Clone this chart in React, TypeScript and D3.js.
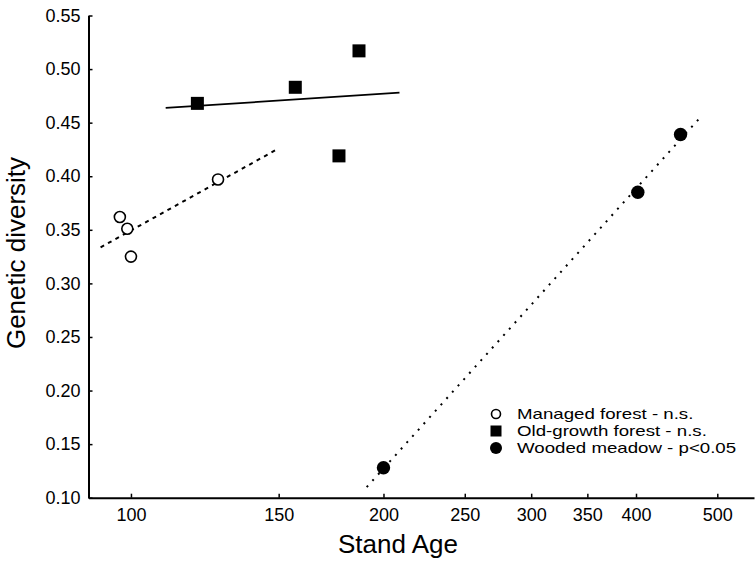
import { useEffect, useRef } from 'react';
import * as d3 from 'd3';

// Stand age (years) and genetic diversity per group
const managedAge = [97, 99, 100, 127];
const managedDiv = [0.362, 0.351, 0.325, 0.397];
const oldGrowthAge = [120, 157, 177, 187];
const oldGrowthDiv = [0.468, 0.483, 0.419, 0.517];
const meadowAge = [200, 402, 452];
const meadowDiv = [0.128, 0.385, 0.439];

// extent of each fitted trend line (stand age)
const managedFitRange = [92, 150];
const oldGrowthFitRange = [110, 209];
const meadowFitRange = [191, 478];

const xTicks = [100, 150, 200, 250, 300, 350, 400, 500];
const yTicks = [0.1, 0.15, 0.2, 0.25, 0.3, 0.35, 0.4, 0.45, 0.5, 0.55];

const legendLabels = [
  'Managed forest - n.s.',
  'Old-growth forest - n.s.',
  'Wooded meadow - p<0.05',
];

const width = 755;
const height = 564;
const font = 'Liberation Sans, Arial, sans-serif';

// least squares on log(age)
const fitLog = (xs: number[], ys: number[]) => {
  const lx = xs.map(Math.log);
  const mx = d3.mean(lx) as number;
  const my = d3.mean(ys) as number;
  let sxy = 0;
  let sxx = 0;
  lx.forEach((v, i) => {
    sxy += (v - mx) * (ys[i] - my);
    sxx += (v - mx) * (v - mx);
  });
  const b = sxy / sxx;
  return (x: number) => my + b * (Math.log(x) - mx);
};

const App = () => {
  const svgRef = useRef<SVGSVGElement>(null);

  useEffect(() => {
    const svg = d3.select(svgRef.current);
    svg.selectAll('*').remove();

    const x = d3.scaleLog().domain([89, 553]).range([88.5, 754]);
    const y = d3.scaleLinear().domain([0.1, 0.55]).range([497.7, 15.5]);

    // axes
    const xAxis = svg.append('g')
      .attr('transform', `translate(0, ${y(0.1)})`)
      .call(d3.axisBottom(x).tickValues(xTicks).tickFormat(d3.format('d')).tickSize(-4).tickSizeOuter(0));
    xAxis.select('.domain').attr('stroke-width', 2);
    xAxis.selectAll('.tick line').attr('stroke-width', 1.5);
    xAxis.selectAll('.tick text')
      .attr('y', 23)
      .attr('dy', 0)
      .attr('font-size', 18)
      .attr('font-family', font)
      .attr('fill', '#000');

    const yAxis = svg.append('g')
      .attr('transform', `translate(${x.range()[0]}, 0)`)
      .call(d3.axisLeft(y).tickValues(yTicks).tickFormat(d3.format('.2f')).tickSize(-4).tickSizeOuter(0));
    yAxis.select('.domain').attr('stroke-width', 2);
    yAxis.selectAll('.tick line').attr('stroke-width', 1.5);
    yAxis.selectAll('.tick text')
      .attr('x', -8)
      .attr('font-size', 18)
      .attr('font-family', font)
      .attr('fill', '#000');

    svg.append('text')
      .attr('x', 398)
      .attr('y', 553)
      .attr('text-anchor', 'middle')
      .attr('font-size', 26)
      .attr('font-family', font)
      .text('Stand Age');

    svg.append('text')
      .attr('transform', 'translate(25, 253) rotate(-90)')
      .attr('text-anchor', 'middle')
      .attr('font-size', 26)
      .attr('font-family', font)
      .text('Genetic diversity');

    // trend lines
    const trend = (ages: number[], divs: number[], range: number[], dash: string | null, sw: number) => {
      const f = fitLog(ages, divs);
      const line = d3.line<number>().x(d => x(d)).y(d => y(f(d)));
      svg.append('path')
        .attr('d', line(range))
        .attr('fill', 'none')
        .attr('stroke', '#000')
        .attr('stroke-width', sw)
        .attr('stroke-dasharray', dash);
    };
    trend(managedAge, managedDiv, managedFitRange, '4 4.5', 2);
    trend(oldGrowthAge, oldGrowthDiv, oldGrowthFitRange, null, 1.8);
    trend(meadowAge, meadowDiv, meadowFitRange, '2 6.5', 2);

    // points
    svg.append('g').selectAll('circle')
      .data(managedAge)
      .enter()
      .append('circle')
      .attr('cx', d => x(d))
      .attr('cy', (d, i) => y(managedDiv[i]))
      .attr('r', 5.5)
      .attr('fill', '#fff')
      .attr('stroke', '#000')
      .attr('stroke-width', 1.6);

    svg.append('g').selectAll('rect')
      .data(oldGrowthAge)
      .enter()
      .append('rect')
      .attr('x', d => x(d) - 6.5)
      .attr('y', (d, i) => y(oldGrowthDiv[i]) - 6.5)
      .attr('width', 13)
      .attr('height', 13)
      .attr('fill', '#000');

    svg.append('g').selectAll('circle')
      .data(meadowAge)
      .enter()
      .append('circle')
      .attr('cx', d => x(d))
      .attr('cy', (d, i) => y(meadowDiv[i]))
      .attr('r', 6.7)
      .attr('fill', '#000');

    // legend
    const legend = svg.append('g').attr('transform', 'translate(496, 414)');
    const rowH = 17;
    legend.append('circle')
      .attr('cx', 0).attr('cy', 0).attr('r', 4.5)
      .attr('fill', '#fff').attr('stroke', '#000').attr('stroke-width', 1.6);
    legend.append('rect')
      .attr('x', -5.5).attr('y', rowH - 5.5).attr('width', 11).attr('height', 11)
      .attr('fill', '#000');
    legend.append('circle')
      .attr('cx', 0).attr('cy', rowH * 2).attr('r', 6)
      .attr('fill', '#000');
    legend.selectAll('text')
      .data(legendLabels)
      .enter()
      .append('text')
      .attr('transform', (d, i) => `translate(21, ${i * rowH}) scale(1.28, 1)`)
      .attr('dy', '0.36em')
      .attr('font-size', 14.6)
      .attr('font-family', font)
      .text(d => d);
  }, []);

  return (
    <svg
      ref={svgRef}
      width={width}
      height={height}
      style={{ position: 'absolute', left: 0, top: 0, background: '#fff' }}
    />
  );
};

export default App;
